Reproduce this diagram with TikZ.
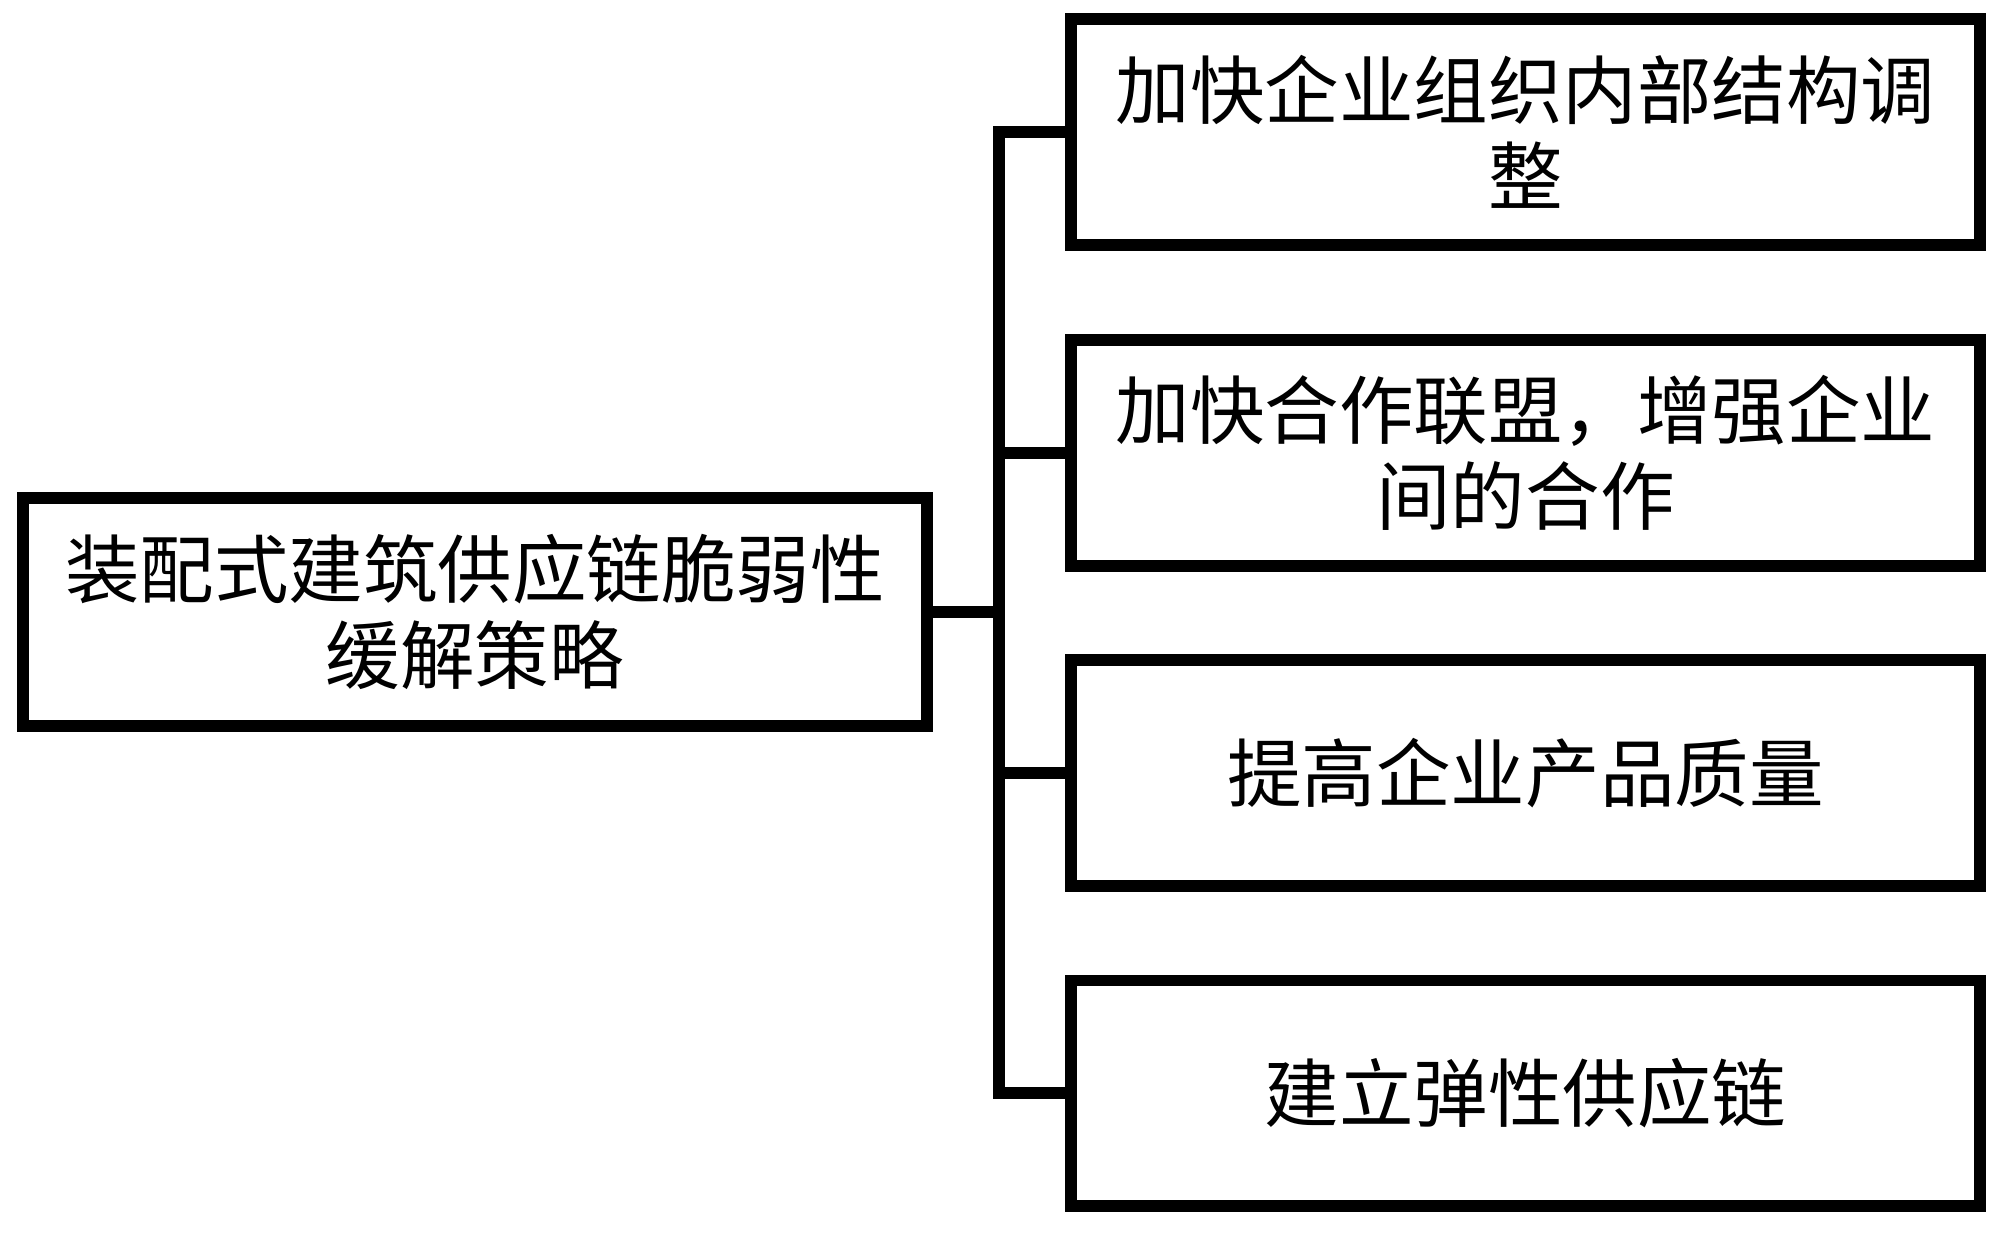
\documentclass[tikz,border=0pt]{standalone}
\usepackage{fontspec}
\newfontfamily\cjk{Noto Sans CJK SC}
\begin{document}
\begin{tikzpicture}[x=0.025cm,y=-0.025cm,line width=8.5pt]

        \useasboundingbox (0,0) rectangle (2000,1235);

        \begin{scope}[every node/.style={draw,rectangle,inner sep=0pt,align=center,
            font=\cjk\fontsize{53}{61}\selectfont}]
          \node[minimum width=22.6cm,minimum height=5.675cm] (main) at (475,612)
            {装配式建筑供应链脆弱性\\缓解策略};
          \node[minimum width=22.725cm,minimum height=5.625cm] (s1) at (1525.5,132)
            {加快企业组织内部结构调\\整};
          \node[minimum width=22.725cm,minimum height=5.625cm] (s2) at (1525.5,453)
            {加快合作联盟，增强企业\\间的合作};
          \node[minimum width=22.725cm,minimum height=5.625cm] (s3) at (1525.5,773)
            {提高企业产品质量};
          \node[minimum width=22.725cm,minimum height=5.625cm] (s4) at (1525.5,1093)
            {建立弹性供应链};
        \end{scope}

        \coordinate (hub) at (999,612);

        \draw (s1.west) -| (hub) |- (s4.west);
        \draw (main.east) -- (hub);
        \draw (hub |- s2.west) -- (s2.west);
        \draw (hub |- s3.west) -- (s3.west);

      \end{tikzpicture}
\end{document}
